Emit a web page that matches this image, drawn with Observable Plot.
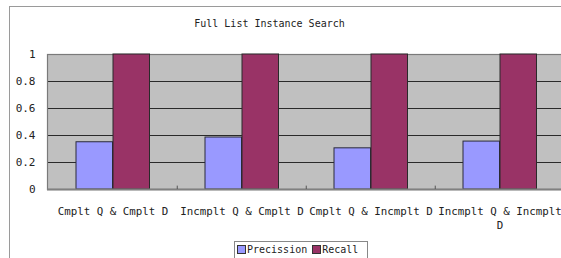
<!DOCTYPE html>
<html>
<head>
<meta charset="utf-8">
<script src="https://cdn.jsdelivr.net/npm/d3@7"></script>
<script src="https://cdn.jsdelivr.net/npm/@observablehq/plot@0.6"></script>
<style>
  html, body { margin: 0; padding: 0; background: #fff; }
  #wrap { position: relative; width: 561px; height: 258px; overflow: hidden; background: #fff; }
  #outer { position: absolute; left: 9px; top: 6px; width: 700px; height: 400px; border: 1.5px solid #9a9a9a; box-sizing: border-box; }
  #title { position: absolute; left: 0; width: 539px; top: 18px; text-align: center; font-family: "DejaVu Sans Mono", "Liberation Mono", monospace; font-size: 10px; color: #222; }
  #chart { position: absolute; left: 0; top: 0; }
  #chart svg { background: transparent; overflow: hidden; }
  #legendbox { position: absolute; left: 234px; top: 241px; width: 134px; height: 24px; border: 1px solid #888; box-sizing: border-box; background: #fff; }
  .lbl { position: absolute; top: 243px; font-family: "DejaVu Sans Mono", "Liberation Mono", monospace; font-size: 10px; line-height: 13px; color: #222; white-space: nowrap; }
  .sw { position: absolute; top: 245px; width: 7px; height: 7px; border: 1px solid #333; }
</style>
</head>
<body>
<div id="wrap">
  <div id="outer"></div>
  <div id="chart"></div>
  <div id="title"></div>
  <div id="legendbox"></div>
</div>
<script>
const titleText = "Full List Instance Search";
const categories = ["Cmplt Q & Cmplt D", "Incmplt Q & Cmplt D", "Cmplt Q & Incmplt D", "Incmplt Q & Incmplt D"];
const tickLabels = ["Cmplt Q & Cmplt D", "Incmplt Q & Cmplt D", "Cmplt Q & Incmplt D", "Incmplt Q & Incmplt\nD"];
const precision = [0.35, 0.385, 0.305, 0.355];
const recall = [1, 1, 1, 1];
const seriesNames = ["Precission", "Recall"];
const seriesColors = ["#9999ff", "#993366"];
const yTicks = [0, 0.2, 0.4, 0.6, 0.8, 1];
const yTickLabels = ["0", "0.2", "0.4", "0.6", "0.8", "1"];

const rows = categories.map((c, i) => ({cat: c, p: precision[i], r: recall[i]}));
const labelOf = new Map(categories.map((c, i) => [c, tickLabels[i]]));
const yLabel = new Map(yTicks.map((t, i) => [t, yTickLabels[i]]));

const chart = Plot.plot({
  width: 561,
  height: 258,
  marginTop: 54,
  marginBottom: 69,
  marginLeft: 47,
  marginRight: -4,
  style: {fontFamily: "'DejaVu Sans Mono', 'Liberation Mono', monospace", fontSize: "11px", color: "#222", background: "transparent"},
  x: {domain: categories, padding: 0, axis: null},
  y: {domain: [0, 1], axis: null},
  marks: [
    Plot.barY(rows, {x: "cat", y: d => 1, fill: "#c0c0c0", inset: 0}),
    Plot.ruleY([0.2, 0.4, 0.6, 0.8], {stroke: "#2a2a2a", strokeWidth: 1}),
    Plot.frame({stroke: "#7a7a7a", strokeWidth: 1.2}),
    Plot.barY(rows, {x: "cat", y: "p", fill: seriesColors[0], stroke: "#2a2a3a", strokeWidth: 1, insetLeft: 28, insetRight: 64.5}),
    Plot.barY(rows, {x: "cat", y: "r", fill: seriesColors[1], stroke: "#2a2a2a", strokeWidth: 1, insetLeft: 65, insetRight: 27.5}),
    Plot.ruleY([0], {stroke: "#808080", strokeWidth: 2}),
    Plot.ruleX(categories.slice(1), {x: d => d, dx: -64.75, y1: 0, y2: 0.025, stroke: "#555"}),
    Plot.axisX({ticks: categories, tickSize: 0, tickPadding: 16, tickFormat: d => labelOf.get(d), fontSize: 10.8, lineHeight: 1.25}),
    Plot.axisY({ticks: yTicks, tickSize: 0, tickPadding: 12, tickFormat: d => yLabel.get(d), fontSize: 11})
  ]
});
document.getElementById("chart").appendChild(chart);
document.getElementById("title").textContent = titleText;

// legend: swatch + label per series, laid out left to right
const wrap = document.getElementById("wrap");
let lx = 237;
seriesNames.forEach((n, i) => {
  const sw = document.createElement("div");
  sw.className = "sw";
  sw.style.left = lx + "px";
  sw.style.background = seriesColors[i];
  wrap.appendChild(sw);
  const t = document.createElement("div");
  t.className = "lbl";
  t.style.left = (lx + 10) + "px";
  t.textContent = n;
  wrap.appendChild(t);
  lx += 10 + n.length * 6.02 + 5;
});
</script>
</body>
</html>
